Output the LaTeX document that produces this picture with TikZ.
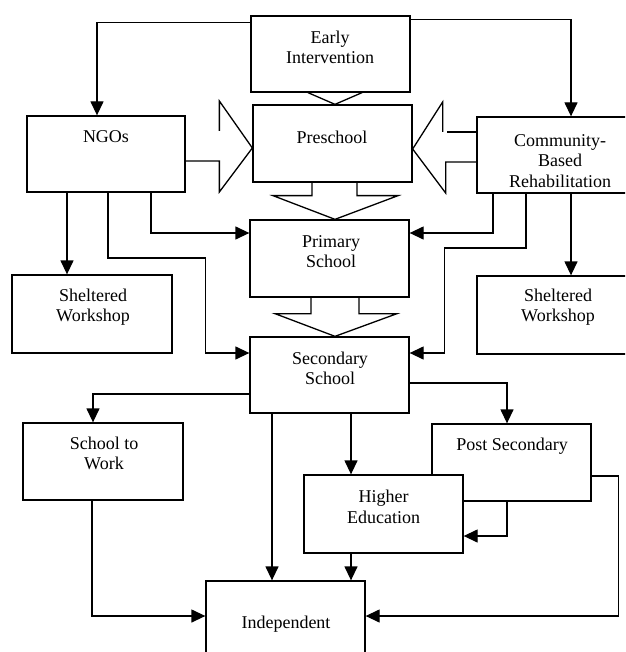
\documentclass[tikz,border=0pt]{standalone}
\usepackage{fontspec}
\setmainfont{Liberation Serif}
\usetikzlibrary{arrows.meta,calc}
\begin{document}
\begin{tikzpicture}[x=1pt,y=-1pt,
  box/.style={draw,line width=1.3pt,fill=white,inner sep=0pt,rectangle},
  lbl/.style={align=center,inner sep=0pt,font=\fontsize{18}{20.5}\selectfont},
  arr/.style={line width=1.3pt,-{Triangle[length=14pt,width=13pt]}},
  fat/.style={line width=1.3pt,line join=miter}]
\clip (0,0) rectangle (625,652);
\fill[white] (0,0) rectangle (625,652);
% boxes
\node[box,minimum width=159pt,minimum height=76pt] (ei) at (330.5,54) {};
\node[box,minimum width=159pt,minimum height=77pt] (pre) at (332.5,143.5) {};
\node[box,minimum width=158pt,minimum height=76pt] (ngo) at (106,154) {};
\node[box,minimum width=163pt,minimum height=76pt] (cbr) at (558.5,155) {};
\node[box,minimum width=159pt,minimum height=77pt] (pri) at (329.5,258.5) {};
\node[box,minimum width=160pt,minimum height=78pt] (swl) at (92,314) {};
\node[box,minimum width=163pt,minimum height=78pt] (swr) at (558.5,315) {};
\node[box,minimum width=159pt,minimum height=76pt] (sec) at (329.5,375) {};
\node[box,minimum width=160pt,minimum height=77pt] (stw) at (103,461.5) {};
\node[box,minimum width=159pt,minimum height=77pt] (ps) at (511.5,462.5) {};
\node[box,minimum width=159pt,minimum height=78pt] (he) at (383.5,514) {};
\node[box,minimum width=159pt,minimum height=79pt] (ind) at (285.5,620.5) {};
% texts
\node[lbl] (eit) at (330,47.5) {Early\\Intervention};
\node[lbl] (pret) at (332,137) {Preschool};
\node[lbl] (ngot) at (106,137) {NGOs};
\node[lbl] (cbrt) at (560,161) {Community-\\Based\\Rehabilitation};
\node[lbl] (prit) at (331,251.5) {Primary\\School};
\node[lbl] (swlt) at (93,307) {Sheltered\\Workshop};
\node[lbl] (swrt) at (558,307) {Sheltered\\Workshop};
\node[lbl] (sect) at (330,368.5) {Secondary\\School};
\node[lbl] (stwt) at (104,453.5) {School to\\Work};
\node[lbl] (pst) at (512,446) {Post Secondary};
\node[lbl] (het) at (383.5,507) {Higher\\Education};
\node[lbl] (indt) at (286,624) {Independent};
% top connectors
\draw[arr] ([yshift=-7pt]ei.north west) -| ([xshift=-9pt]ngo.north);
\draw[arr] ([yshift=-4pt]ei.north east) -| ([xshift=12.5pt]cbr.north);
% chevron EI -> Preschool
\draw[fat] ($(ei.south)+(-22.5,0)$) -- ($(pre.north)+(2.5,0)$) -- ($(ei.south)+(31.5,0)$);
% big arrow NGOs -> Preschool
\draw[fat] ($(pre.west)+(-33,-12.5)$) -- ($(pre.west)+(-33,-42.5)$) -- ($(pre.west)+(0,4.5)$)
  -- ($(pre.west)+(-33,48.5)$) -- ($(pre.west)+(-33,17.5)$) -- ($(ngo.east)+(0,7)$);
% big arrow CBR -> Preschool
\draw[fat] ($(cbr.west)+(0,-23)$) -- ($(cbr.west)+(-29,-23)$);
\draw[fat] ($(pre.east)+(30,-11.5)$) -- ($(pre.east)+(30,-41.5)$) -- ($(pre.east)+(0,5.5)$)
  -- ($(pre.east)+(33,49.5)$) -- ($(pre.east)+(33,18.5)$) -- ($(cbr.west)+(0,7)$);
% big arrow Preschool -> Primary
\draw[fat] ($(pre.south)+(-20.5,0)$) -- ($(pre.south)+(-20.5,13)$) -- ($(pre.south)+(-59.5,13)$)
  -- ($(pri.north)+(5.5,0)$) -- ($(pre.south)+(65.5,13)$) -- ($(pre.south)+(24.5,13)$) -- ($(pre.south)+(24.5,0)$);
% big arrow Primary -> Secondary
\draw[fat] ($(pri.south)+(-18.5,0)$) -- ($(pri.south)+(-18.5,16)$) -- ($(pri.south)+(-54.5,16)$)
  -- ($(sec.north)+(5.5,0)$) -- ($(pri.south)+(67.5,16)$) -- ($(pri.south)+(29.5,16)$) -- ($(pri.south)+(29.5,0)$);
% NGOs connectors
\draw[arr] ([xshift=-39pt]ngo.south) -- ([xshift=-39pt]ngo.south |- swl.north);
\draw[arr] ([xshift=45pt]ngo.south) |- ([yshift=25.5pt]pri.west);
\draw[arr] ([xshift=2pt]ngo.south) |- ($(sec.west)+(-44,-117)$) |- ([yshift=22pt]sec.west);
% CBR connectors
\draw[arr] ([xshift=-65.5pt]cbr.south) |- ([yshift=25.5pt]pri.east);
\draw[arr] ([xshift=-32.5pt]cbr.south) |- ($(sec.east)+(35,-127)$) |- ([yshift=22pt]sec.east);
\draw[arr] ([xshift=12.5pt]cbr.south) -- ([xshift=12.5pt]cbr.south |- swr.north);
% Secondary connectors
\draw[arr] ([yshift=-19pt]sec.west) -| ([xshift=-10pt]stw.north);
\draw[arr] ([yshift=-8pt]sec.east) -| ([xshift=-4.5pt]ps.north);
\draw[arr] ([xshift=-57.5pt]sec.south) -- ([xshift=-57.5pt]sec.south |- ind.north);
\draw[arr] ([xshift=21.5pt]sec.south) -- ([xshift=21.5pt]sec.south |- he.north);
% lower connectors
\draw[arr] ([xshift=-32.5pt]he.south) -- ([xshift=-32.5pt]he.south |- ind.north);
\draw[arr] ([xshift=-4.5pt]ps.south) |- ([yshift=-22pt]he.east);
\draw[arr] ([yshift=-13.5pt]ps.east) -| ($(ind.east)+(253,-4.5)$) |- ([yshift=4.5pt]ind.east);
\draw[arr] ([xshift=-11pt]stw.south) |- ([yshift=4.5pt]ind.west);
\end{tikzpicture}
\end{document}
